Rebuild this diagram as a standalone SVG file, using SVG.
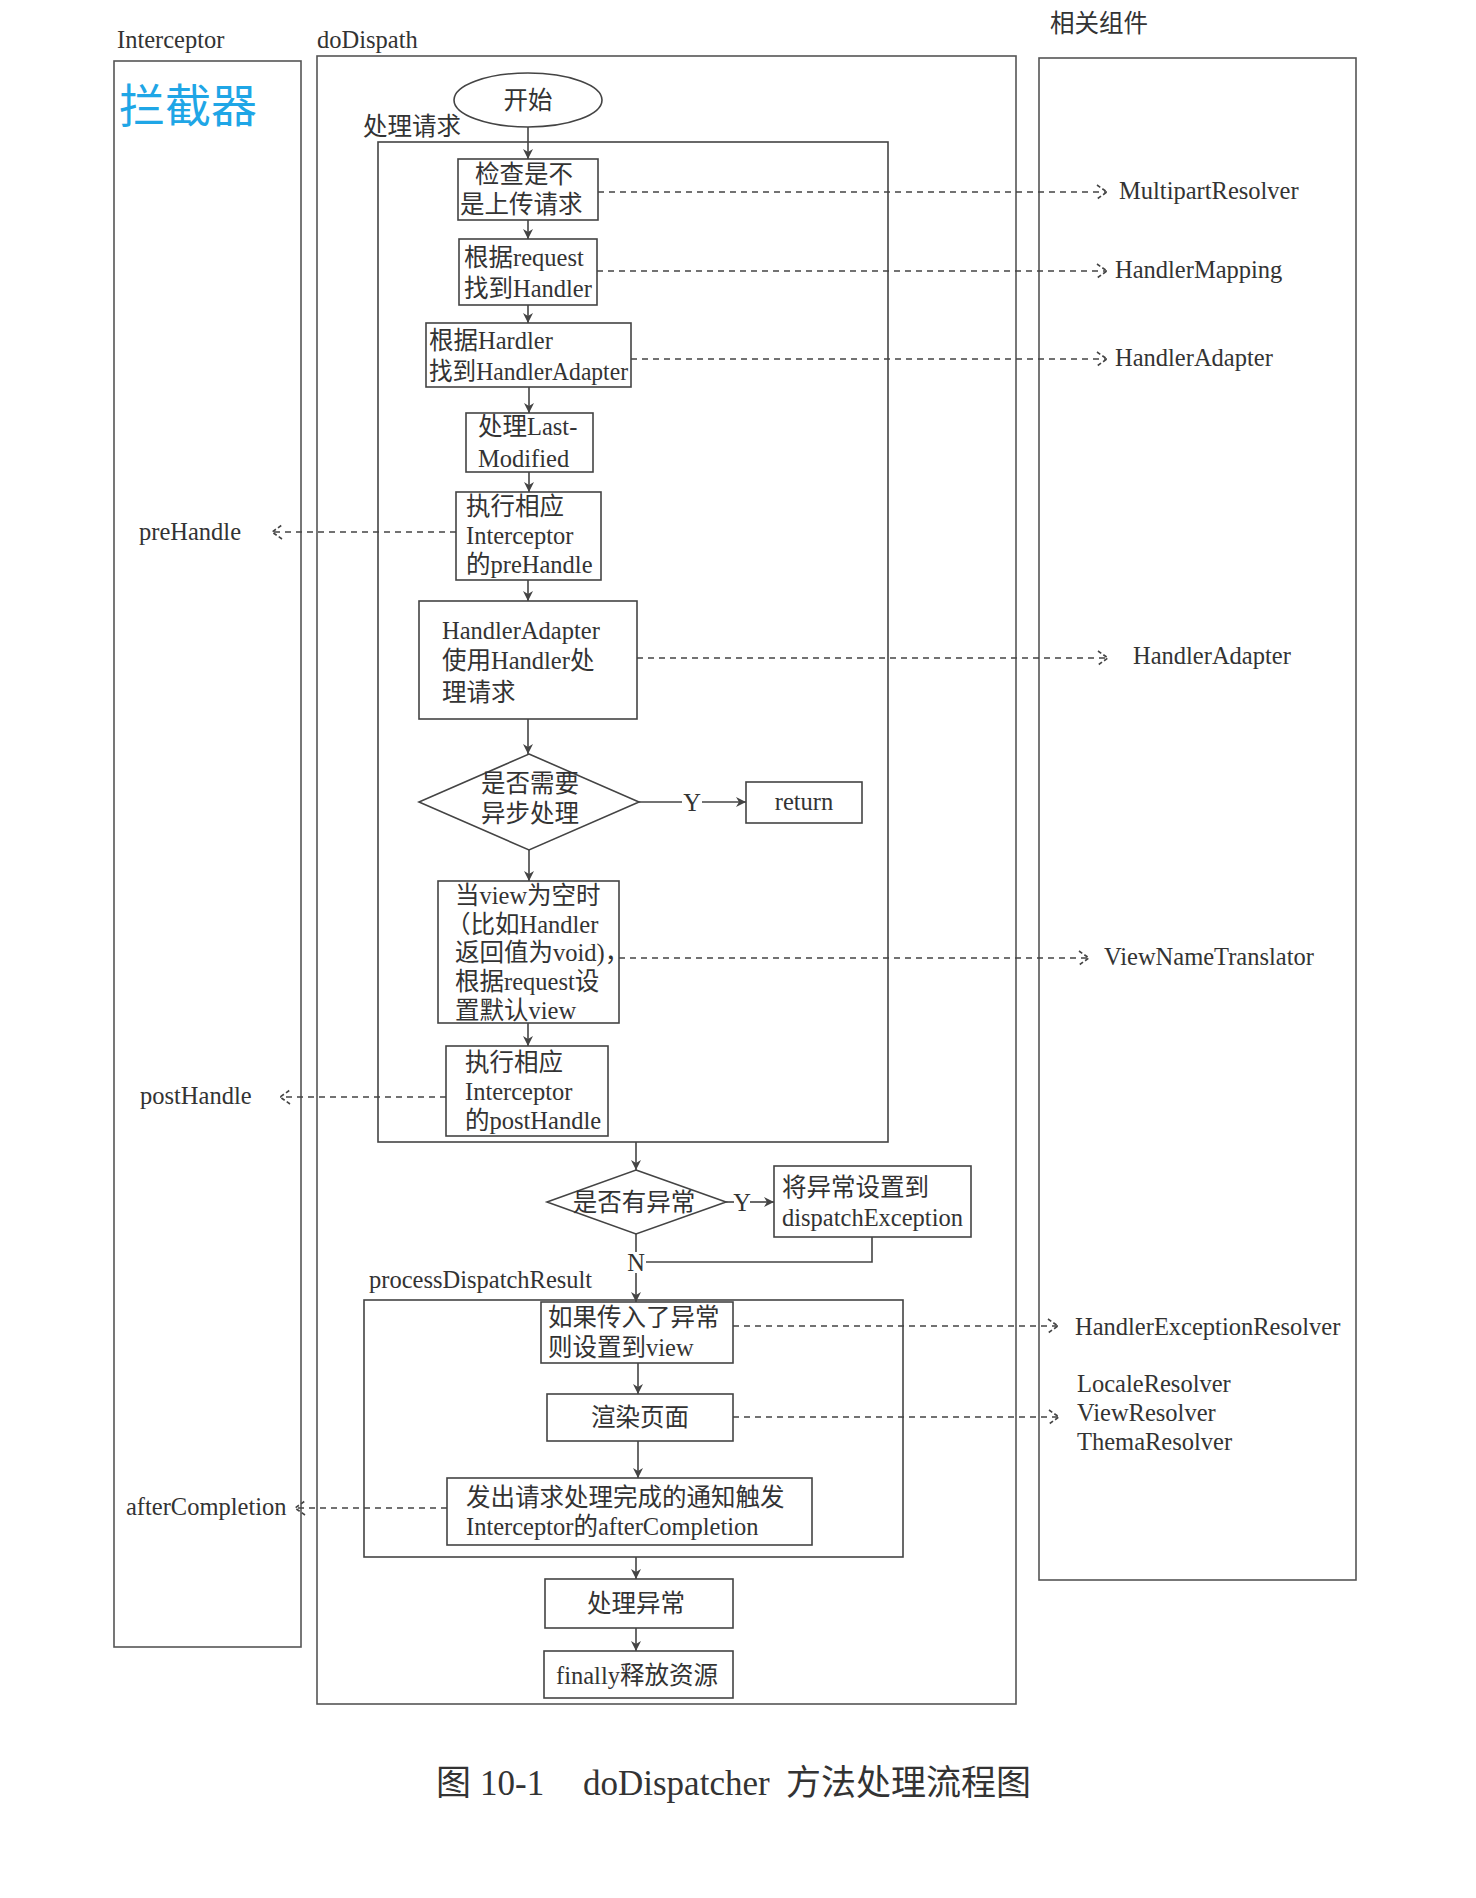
<svg xmlns="http://www.w3.org/2000/svg" width="1476" height="1898" viewBox="0 0 1476 1898">
<style>
.lane{fill:none;stroke:#555;stroke-width:1.6}
.box{fill:#fff;stroke:#444;stroke-width:1.6}
.grp{fill:none;stroke:#444;stroke-width:1.6}
.t{font-family:"Liberation Serif","Noto Sans CJK SC",serif;font-size:24.5px;fill:#333}
.tc{text-anchor:middle}
.sol{fill:none;stroke:#444;stroke-width:1.6}
.arr{marker-end:url(#arr)}
.dash{fill:none;stroke:#444;stroke-width:1.5;stroke-dasharray:6 5;marker-end:url(#open)}
</style>
<defs>
<marker id="arr" viewBox="0 0 10 10" refX="10" refY="5" markerWidth="10" markerHeight="10" markerUnits="userSpaceOnUse" orient="auto"><path d="M0,0 L10,5 L0,10 L3,5 z" fill="#444"/></marker>
<marker id="open" viewBox="0 0 12 16" refX="11" refY="8" markerWidth="12" markerHeight="16" markerUnits="userSpaceOnUse" orient="auto"><path d="M1,1 L11,8 L1,15" fill="none" stroke="#444" stroke-width="1.6" stroke-dasharray="4 2.5"/></marker>
</defs>
<rect width="1476" height="1898" fill="#fff"/>

<g id="lane-interceptor">
<rect class="lane" x="114" y="61" width="187" height="1586"/>
<text class="t" x="117" y="48">Interceptor</text>
<text x="119" y="122" style="font-family:'Noto Sans CJK SC',sans-serif;font-size:46px;fill:#1fa6e6">拦截器</text>
<text class="t" x="139" y="540">preHandle</text>
<text class="t" x="140" y="1104">postHandle</text>
<text class="t" x="126" y="1515">afterCompletion</text>
</g>
<g id="lane-dodispath">
<rect class="lane" x="317" y="56" width="699" height="1648"/>
<text class="t" x="317" y="48">doDispath</text>
</g>
<g id="lane-components">
<rect class="lane" x="1039" y="58" width="317" height="1522"/>
<text class="t" x="1050" y="32">相关组件</text>
<text class="t" x="1119" y="199">MultipartResolver</text>
<text class="t" x="1115" y="278">HandlerMapping</text>
<text class="t" x="1115" y="366">HandlerAdapter</text>
<text class="t" x="1133" y="664">HandlerAdapter</text>
<text class="t" x="1104" y="965">ViewNameTranslator</text>
<text class="t" x="1075" y="1335">HandlerExceptionResolver</text>
<text class="t" x="1077" y="1392">LocaleResolver</text>
<text class="t" x="1077" y="1421">ViewResolver</text>
<text class="t" x="1077" y="1450">ThemaResolver</text>
</g>

<g id="group-request">
<rect class="grp" x="378" y="142" width="510" height="1000"/>
<text class="t" x="363" y="135">处理请求</text>
</g>
<g id="group-process">
<rect class="grp" x="364" y="1300" width="539" height="257"/>
<text class="t" x="369" y="1288">processDispatchResult</text>
</g>

<g id="connectors">
<path class="sol arr" d="M528,127 V159"/>
<path class="sol arr" d="M528,220 V239"/>
<path class="sol arr" d="M528,305 V323"/>
<path class="sol arr" d="M529,387 V413"/>
<path class="sol arr" d="M529,472 V492"/>
<path class="sol arr" d="M528,580 V601"/>
<path class="sol arr" d="M528,719 V754"/>
<path class="sol arr" d="M529,850 V881"/>
<path class="sol arr" d="M528,1023 V1046"/>
<path class="sol" d="M639,802 H682"/>
<text class="t tc" x="692" y="811">Y</text>
<path class="sol arr" d="M702,802 H746"/>
<path class="sol arr" d="M636,1142 V1170"/>
<path class="sol" d="M726,1202 H734"/>
<text class="t tc" x="742" y="1211">Y</text>
<path class="sol arr" d="M750,1202 H774"/>
<path class="sol" d="M636,1234 V1252"/>
<text class="t tc" x="636" y="1271">N</text>
<path class="sol" d="M872,1237 V1262 H646"/>
<path class="sol arr" d="M636,1273 V1302"/>
<path class="sol arr" d="M638,1363 V1394"/>
<path class="sol arr" d="M638,1441 V1478"/>
<path class="sol arr" d="M636,1557 V1579"/>
<path class="sol arr" d="M636,1628 V1651"/>
<path class="dash" d="M598,192 H1107"/>
<path class="dash" d="M597,271 H1107"/>
<path class="dash" d="M631,359 H1107"/>
<path class="dash" d="M456,532 H272"/>
<path class="dash" d="M637,658 H1108"/>
<path class="dash" d="M619,958 H1089"/>
<path class="dash" d="M446,1097 H280"/>
<path class="dash" d="M733,1326 H1058"/>
<path class="dash" d="M733,1417 H1059"/>
<path class="dash" d="M447,1508 H295"/>
</g>

<g id="n-start">
<ellipse cx="528" cy="100" rx="74" ry="27" fill="#fff" stroke="#444" stroke-width="1.6"/>
<text class="t tc" x="528" y="109">开始</text>
</g>
<g id="n-check-upload">
<rect class="box" x="458" y="159" width="140" height="61"/>
<text class="t" x="475" y="183">检查是不</text>
<text class="t" x="460" y="213">是上传请求</text>
</g>
<g id="n-find-handler">
<rect class="box" x="459" y="239" width="138" height="66"/>
<text class="t" x="464" y="266">根据request</text>
<text class="t" x="464" y="297">找到Handler</text>
</g>
<g id="n-find-adapter">
<rect class="box" x="426" y="323" width="205" height="64"/>
<text class="t" x="429" y="349">根据Hardler</text>
<text class="t" x="429" y="380" textLength="199" lengthAdjust="spacingAndGlyphs">找到HandlerAdapter</text>
</g>
<g id="n-last-modified">
<rect class="box" x="466" y="413" width="127" height="59"/>
<text class="t" x="478" y="435">处理Last-</text>
<text class="t" x="478" y="467">Modified</text>
</g>
<g id="n-prehandle">
<rect class="box" x="456" y="492" width="145" height="88"/>
<text class="t" x="466" y="515">执行相应</text>
<text class="t" x="466" y="544">Interceptor</text>
<text class="t" x="466" y="573">的preHandle</text>
</g>
<g id="n-handle">
<rect class="box" x="419" y="601" width="218" height="118"/>
<text class="t" x="442" y="639">HandlerAdapter</text>
<text class="t" x="442" y="669">使用Handler处</text>
<text class="t" x="442" y="701">理请求</text>
</g>
<g id="n-async">
<polygon points="529,754 639,802 529,850 419,802" fill="#fff" stroke="#444" stroke-width="1.6"/>
<text class="t tc" x="530" y="792">是否需要</text>
<text class="t tc" x="530" y="822">异步处理</text>
</g>
<g id="n-return">
<rect class="box" x="746" y="782" width="116" height="41"/>
<text class="t tc" x="804" y="810">return</text>
</g>
<g id="n-default-view">
<rect class="box" x="438" y="881" width="181" height="142"/>
<text class="t" x="455" y="904">当view为空时</text>
<text class="t" x="446" y="933">（比如Handler</text>
<text class="t" x="455" y="961">返回值为void)，</text>
<text class="t" x="455" y="990">根据request设</text>
<text class="t" x="455" y="1019">置默认view</text>
</g>
<g id="n-posthandle">
<rect class="box" x="446" y="1046" width="162" height="90"/>
<text class="t" x="465" y="1071">执行相应</text>
<text class="t" x="465" y="1100">Interceptor</text>
<text class="t" x="465" y="1129">的postHandle</text>
</g>
<g id="n-has-exception">
<polygon points="636,1170 726,1202 636,1234 547,1202" fill="#fff" stroke="#444" stroke-width="1.6"/>
<text class="t tc" x="634" y="1211">是否有异常</text>
</g>
<g id="n-set-exception">
<rect class="box" x="774" y="1166" width="197" height="71"/>
<text class="t" x="782" y="1196">将异常设置到</text>
<text class="t" x="782" y="1226">dispatchException</text>
</g>
<g id="n-exception-view">
<rect class="box" x="541" y="1302" width="192" height="61"/>
<text class="t" x="548" y="1326">如果传入了异常</text>
<text class="t" x="548" y="1356">则设置到view</text>
</g>
<g id="n-render">
<rect class="box" x="547" y="1394" width="186" height="47"/>
<text class="t tc" x="640" y="1426">渲染页面</text>
</g>
<g id="n-after-completion">
<rect class="box" x="447" y="1478" width="365" height="67"/>
<text class="t" x="466" y="1506">发出请求处理完成的通知触发</text>
<text class="t" x="466" y="1535">Interceptor的afterCompletion</text>
</g>
<g id="n-handle-exception">
<rect class="box" x="545" y="1579" width="188" height="49"/>
<text class="t tc" x="636" y="1612">处理异常</text>
</g>
<g id="n-finally">
<rect class="box" x="544" y="1651" width="189" height="47"/>
<text class="t tc" x="637" y="1684">finally释放资源</text>
</g>

<g id="caption" style="font-family:'Liberation Serif','Noto Sans CJK SC',serif;font-size:35px;fill:#333">
<text x="436" y="1795">图</text>
<text x="480" y="1795">10-1</text>
<text x="583" y="1795">doDispatcher</text>
<text x="786" y="1795">方法处理流程图</text>
</g>
</svg>
